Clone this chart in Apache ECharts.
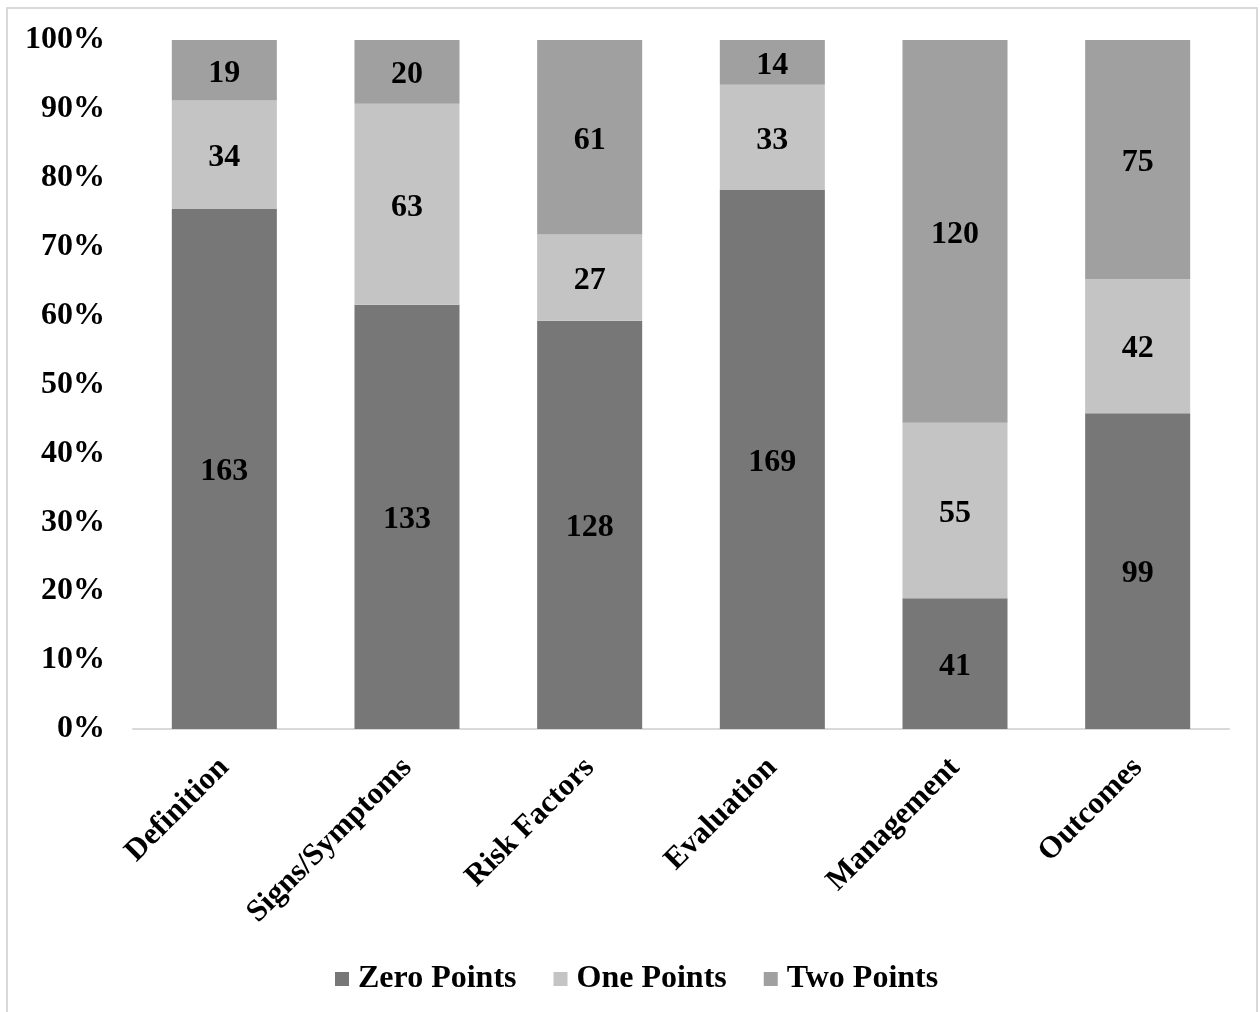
<!DOCTYPE html>
<html>
<head>
<meta charset="utf-8">
<script src="https://cdn.jsdelivr.net/npm/echarts@6/dist/echarts.min.js"></script>
<style>
html,body{margin:0;padding:0;background:#fff;}
#chart{width:1260px;height:1012px;}
</style>
</head>
<body>
<div id="chart"></div>
<script>
const categories = ['Definition', 'Signs/Symptoms', 'Risk Factors', 'Evaluation', 'Management', 'Outcomes'];
const zeroPoints = [163, 133, 128, 169, 41, 99];
const onePoints = [34, 63, 27, 33, 55, 42];
const twoPoints = [19, 20, 61, 14, 120, 75];
const seriesNames = ['Zero Points', 'One Points', 'Two Points'];
const yTickLabels = ['0%', '10%', '20%', '30%', '40%', '50%', '60%', '70%', '80%', '90%', '100%'];

const colors = ['#777777', '#c4c4c4', '#a0a0a0'];
const FONT = '"Liberation Serif", "Times New Roman", serif';

const totals = categories.map((_, i) => zeroPoints[i] + onePoints[i] + twoPoints[i]);
function toPct(arr) {
  return arr.map((v, i) => ({ value: v / totals[i] * 100, count: v }));
}
const allSeries = [zeroPoints, onePoints, twoPoints];

const chart = echarts.init(document.getElementById('chart'));
chart.setOption({
  backgroundColor: '#ffffff',
  animation: false,
  graphic: [{
    type: 'rect',
    shape: { x: 7, y: 8, width: 1250, height: 1010 },
    style: { fill: 'none', stroke: '#d9d9d9', lineWidth: 2 },
    silent: true
  }],
  grid: { left: 133, right: 31, top: 40, bottom: 283, containLabel: false },
  legend: {
    data: seriesNames,
    bottom: 12,
    left: 330,
    itemWidth: 14,
    itemHeight: 14,
    itemGap: 37,
    icon: 'rect',
    textStyle: { fontFamily: FONT, fontWeight: 'bold', fontSize: 32, color: '#000', padding: [0, 0, 0, 4] }
  },
  xAxis: {
    type: 'category',
    data: categories,
    axisLine: { show: true, lineStyle: { color: '#d9d9d9', width: 2 } },
    axisTick: { show: false },
    axisLabel: {
      rotate: 45,
      interval: 0,
      margin: 34,
      fontFamily: FONT,
      fontWeight: 'bold',
      fontSize: 31,
      color: '#000'
    }
  },
  yAxis: {
    type: 'value',
    min: 0,
    max: 100,
    interval: 10,
    splitLine: { show: false },
    axisLine: { show: false },
    axisTick: { show: false },
    axisLabel: {
      margin: 28,
      fontFamily: FONT,
      fontWeight: 'bold',
      fontSize: 32,
      color: '#000',
      padding: [6, 0, 0, 0],
      formatter: (v) => yTickLabels[Math.round(v / 10)]
    }
  },
  series: allSeries.map((arr, k) => ({
    name: seriesNames[k],
    type: 'bar',
    stack: 'total',
    barWidth: '57.5%',
    data: toPct(arr),
    itemStyle: { color: colors[k] },
    label: {
      show: true,
      position: 'inside',
      offset: [0, 3],
      fontFamily: FONT,
      fontWeight: 'bold',
      fontSize: 32,
      color: '#000',
      formatter: (p) => String(p.data.count)
    }
  }))
});
</script>
</body>
</html>
